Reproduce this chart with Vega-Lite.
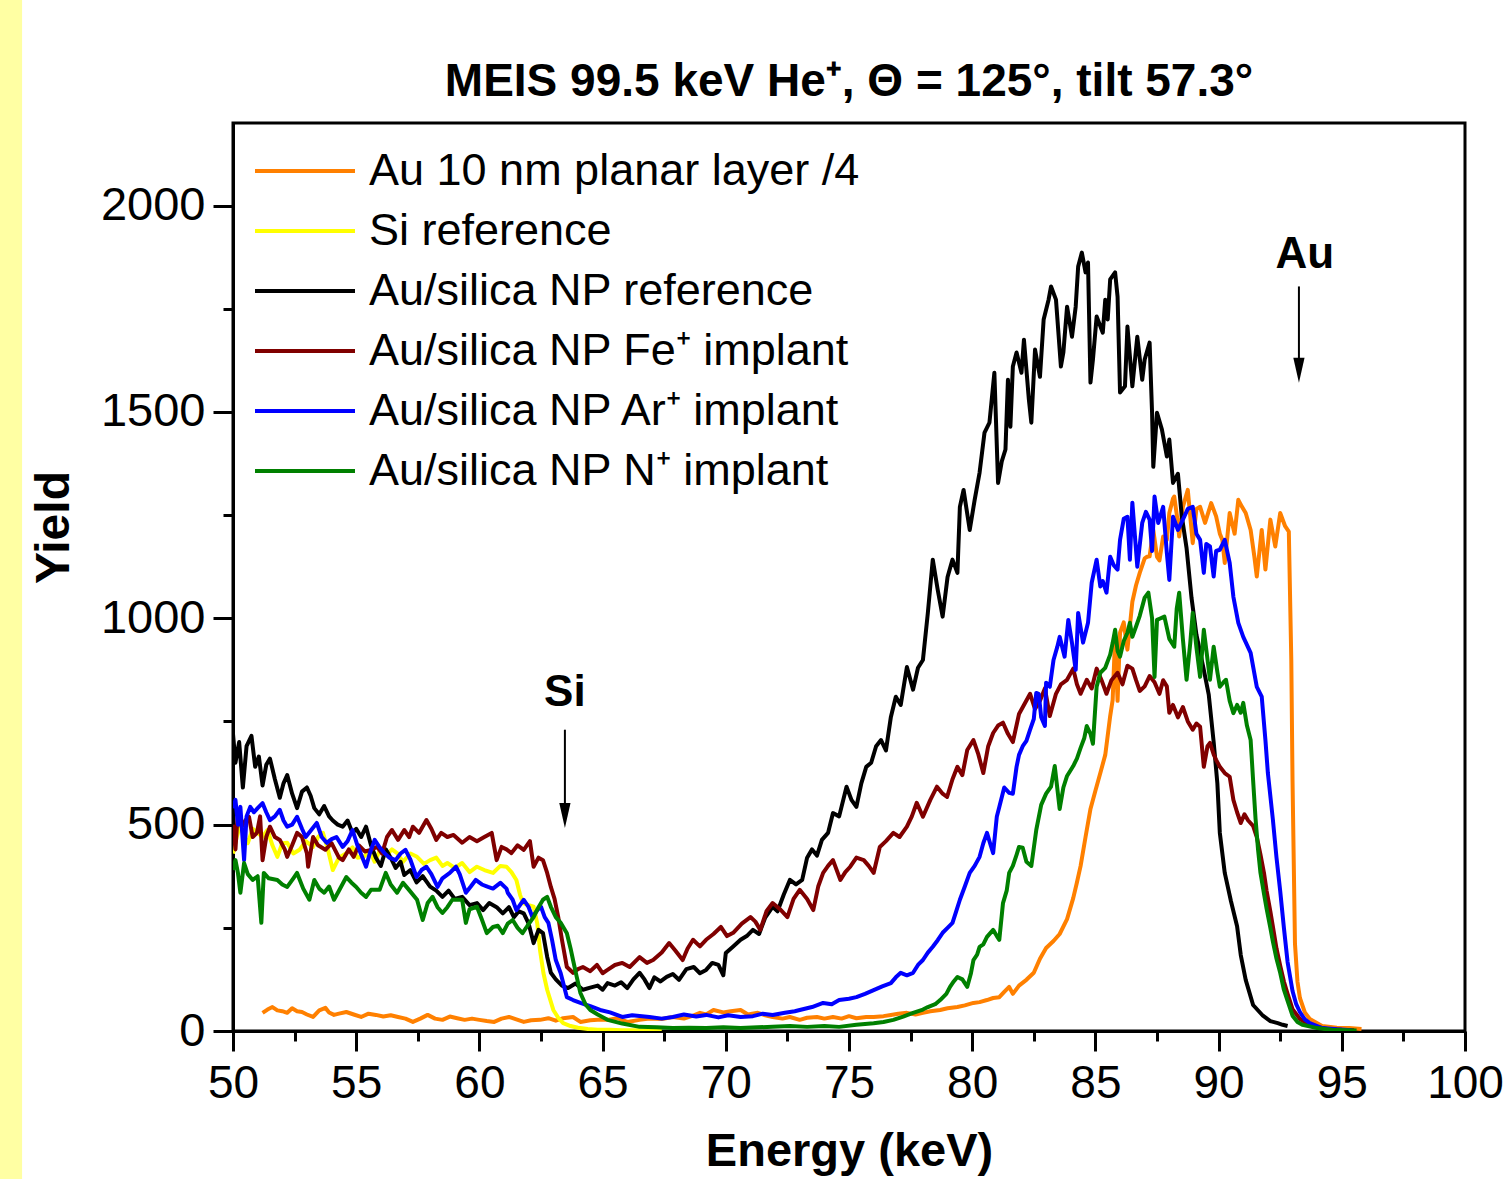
{
"$schema":"https://vega.github.io/schema/vega-lite/v6.json",
"width":1232,"height":908,
"autosize":{"type":"none"},
"padding":{"left":233,"top":123,"right":38,"bottom":148},
"background":"white",
"config":{"font":"Liberation Sans","view":{"stroke":"black","strokeWidth":3}},
"title":{"text":"MEIS 99.5 keV He⁺, Θ = 125°, tilt 57.3°","fontSize":46,"fontWeight":"bold","font":"Liberation Sans","color":"black","offset":-107,"anchor":"middle","frame":"group"},
"datasets":{"names":[
{"s":"o","series":"Au 10 nm planar layer /4"},
{"s":"si","series":"Si reference"},
{"s":"k","series":"Au/silica NP reference"},
{"s":"r","series":"Au/silica NP Fe⁺ implant"},
{"s":"b","series":"Au/silica NP Ar⁺ implant"},
{"s":"g","series":"Au/silica NP N⁺ implant"}]},
"layer":[
{"data":{"values":[{}]},
 "mark":{"type":"rect","color":"#FFFFA3","clip":false},
 "encoding":{"x":{"datum":40,"type":"quantitative","scale":{"domain":[50,100],"nice":false,"zero":false}},"x2":{"datum":41.44},
 "y":{"datum":-360,"type":"quantitative","scale":{"domain":[0,2200],"nice":false,"zero":false}},"y2":{"datum":2499.5}}},
{"data":{"values":[
{"s":"o","e":51.2,"y":44},{"s":"o","e":51.4,"y":52},{"s":"o","e":51.6,"y":58},{"s":"o","e":51.8,"y":50},{"s":"o","e":52.0,"y":48},{"s":"o","e":52.2,"y":44},{"s":"o","e":52.4,"y":55},{"s":"o","e":52.6,"y":48},{"s":"o","e":52.8,"y":46},{"s":"o","e":53.0,"y":40},{"s":"o","e":53.25,"y":34},{"s":"o","e":53.5,"y":50},{"s":"o","e":53.75,"y":56},{"s":"o","e":53.9,"y":45},{"s":"o","e":54.1,"y":39},{"s":"o","e":54.3,"y":42},{"s":"o","e":54.6,"y":46},{"s":"o","e":54.9,"y":40},{"s":"o","e":55.2,"y":34},{"s":"o","e":55.5,"y":42},{"s":"o","e":55.8,"y":39},{"s":"o","e":56.1,"y":35},{"s":"o","e":56.4,"y":38},{"s":"o","e":56.7,"y":34},{"s":"o","e":57.0,"y":30},{"s":"o","e":57.3,"y":22},{"s":"o","e":57.6,"y":30},{"s":"o","e":57.9,"y":39},{"s":"o","e":58.2,"y":30},{"s":"o","e":58.5,"y":27},{"s":"o","e":58.8,"y":35},{"s":"o","e":59.1,"y":31},{"s":"o","e":59.4,"y":27},{"s":"o","e":59.7,"y":30},{"s":"o","e":60.0,"y":27},{"s":"o","e":60.3,"y":24},{"s":"o","e":60.6,"y":22},{"s":"o","e":60.9,"y":30},{"s":"o","e":61.2,"y":34},{"s":"o","e":61.5,"y":28},{"s":"o","e":61.8,"y":22},{"s":"o","e":62.1,"y":26},{"s":"o","e":62.46,"y":27},{"s":"o","e":62.8,"y":31},{"s":"o","e":63.1,"y":25},{"s":"o","e":63.4,"y":31},{"s":"o","e":63.8,"y":34},{"s":"o","e":64.1,"y":22},{"s":"o","e":64.5,"y":26},{"s":"o","e":64.8,"y":27},{"s":"o","e":65.2,"y":27},{"s":"o","e":65.6,"y":31},{"s":"o","e":66.0,"y":22},{"s":"o","e":66.5,"y":27},{"s":"o","e":66.9,"y":30},{"s":"o","e":67.4,"y":29},{"s":"o","e":67.85,"y":34},{"s":"o","e":68.3,"y":30},{"s":"o","e":68.7,"y":38},{"s":"o","e":68.95,"y":44},{"s":"o","e":69.2,"y":40},{"s":"o","e":69.5,"y":51},{"s":"o","e":69.9,"y":45},{"s":"o","e":70.2,"y":48},{"s":"o","e":70.6,"y":51},{"s":"o","e":70.9,"y":40},{"s":"o","e":71.3,"y":44},{"s":"o","e":71.6,"y":38},{"s":"o","e":71.9,"y":34},{"s":"o","e":72.3,"y":30},{"s":"o","e":72.6,"y":34},{"s":"o","e":73.0,"y":27},{"s":"o","e":73.3,"y":32},{"s":"o","e":73.7,"y":34},{"s":"o","e":74.0,"y":30},{"s":"o","e":74.35,"y":34},{"s":"o","e":74.7,"y":30},{"s":"o","e":75.0,"y":36},{"s":"o","e":75.3,"y":31},{"s":"o","e":75.7,"y":34},{"s":"o","e":76.0,"y":34},{"s":"o","e":76.4,"y":36},{"s":"o","e":76.7,"y":39},{"s":"o","e":77.0,"y":42},{"s":"o","e":77.35,"y":44},{"s":"o","e":77.7,"y":40},{"s":"o","e":78.0,"y":44},{"s":"o","e":78.3,"y":48},{"s":"o","e":78.7,"y":51},{"s":"o","e":79.0,"y":55},{"s":"o","e":79.4,"y":58},{"s":"o","e":79.7,"y":62},{"s":"o","e":80.05,"y":68},{"s":"o","e":80.3,"y":70},{"s":"o","e":80.6,"y":75},{"s":"o","e":80.85,"y":80},{"s":"o","e":81.1,"y":82},{"s":"o","e":81.3,"y":95},{"s":"o","e":81.5,"y":107},{"s":"o","e":81.65,"y":90},{"s":"o","e":81.9,"y":110},{"s":"o","e":82.2,"y":124},{"s":"o","e":82.5,"y":141},{"s":"o","e":82.75,"y":175},{"s":"o","e":83.0,"y":201},{"s":"o","e":83.3,"y":218},{"s":"o","e":83.55,"y":235},{"s":"o","e":83.85,"y":271},{"s":"o","e":84.1,"y":322},{"s":"o","e":84.25,"y":360},{"s":"o","e":84.4,"y":400},{"s":"o","e":84.6,"y":470},{"s":"o","e":84.8,"y":538},{"s":"o","e":85.0,"y":582},{"s":"o","e":85.2,"y":625},{"s":"o","e":85.4,"y":669},{"s":"o","e":85.6,"y":763},{"s":"o","e":85.7,"y":802},{"s":"o","e":85.8,"y":955},{"s":"o","e":85.9,"y":800},{"s":"o","e":86.0,"y":965},{"s":"o","e":86.15,"y":990},{"s":"o","e":86.3,"y":924},{"s":"o","e":86.5,"y":1040},{"s":"o","e":86.65,"y":1080},{"s":"o","e":86.8,"y":1110},{"s":"o","e":87.0,"y":1145},{"s":"o","e":87.1,"y":1149},{"s":"o","e":87.2,"y":1150},{"s":"o","e":87.35,"y":1214},{"s":"o","e":87.5,"y":1149},{"s":"o","e":87.6,"y":1140},{"s":"o","e":87.75,"y":1198},{"s":"o","e":87.9,"y":1190},{"s":"o","e":88.0,"y":1255},{"s":"o","e":88.15,"y":1290},{"s":"o","e":88.2,"y":1295},{"s":"o","e":88.35,"y":1230},{"s":"o","e":88.4,"y":1198},{"s":"o","e":88.55,"y":1270},{"s":"o","e":88.75,"y":1311},{"s":"o","e":88.95,"y":1182},{"s":"o","e":89.1,"y":1265},{"s":"o","e":89.25,"y":1270},{"s":"o","e":89.45,"y":1231},{"s":"o","e":89.7,"y":1279},{"s":"o","e":89.9,"y":1247},{"s":"o","e":90.05,"y":1205},{"s":"o","e":90.15,"y":1190},{"s":"o","e":90.25,"y":1134},{"s":"o","e":90.45,"y":1255},{"s":"o","e":90.65,"y":1205},{"s":"o","e":90.8,"y":1287},{"s":"o","e":90.95,"y":1270},{"s":"o","e":91.1,"y":1255},{"s":"o","e":91.3,"y":1214},{"s":"o","e":91.45,"y":1150},{"s":"o","e":91.55,"y":1101},{"s":"o","e":91.75,"y":1214},{"s":"o","e":91.9,"y":1118},{"s":"o","e":92.1,"y":1239},{"s":"o","e":92.3,"y":1174},{"s":"o","e":92.5,"y":1255},{"s":"o","e":92.7,"y":1223},{"s":"o","e":92.85,"y":1210},{"s":"o","e":92.95,"y":900},{"s":"o","e":93.0,"y":608},{"s":"o","e":93.1,"y":211},{"s":"o","e":93.2,"y":120},{"s":"o","e":93.3,"y":80},{"s":"o","e":93.5,"y":45},{"s":"o","e":93.7,"y":29},{"s":"o","e":94.2,"y":12},{"s":"o","e":94.8,"y":8},{"s":"o","e":95.3,"y":7},{"s":"o","e":95.8,"y":5},
{"s":"si","e":50.0,"y":430},{"s":"si","e":50.15,"y":470},{"s":"si","e":50.3,"y":500},{"s":"si","e":50.45,"y":470},{"s":"si","e":50.6,"y":455},{"s":"si","e":50.8,"y":490},{"s":"si","e":51.0,"y":480},{"s":"si","e":51.2,"y":470},{"s":"si","e":51.4,"y":487},{"s":"si","e":51.6,"y":450},{"s":"si","e":51.8,"y":422},{"s":"si","e":52.0,"y":455},{"s":"si","e":52.2,"y":456},{"s":"si","e":52.45,"y":430},{"s":"si","e":52.7,"y":439},{"s":"si","e":52.95,"y":460},{"s":"si","e":53.25,"y":446},{"s":"si","e":53.45,"y":470},{"s":"si","e":53.65,"y":480},{"s":"si","e":53.85,"y":440},{"s":"si","e":54.05,"y":390},{"s":"si","e":54.3,"y":420},{"s":"si","e":54.6,"y":431},{"s":"si","e":54.85,"y":445},{"s":"si","e":55.05,"y":420},{"s":"si","e":55.3,"y":422},{"s":"si","e":55.55,"y":435},{"s":"si","e":55.75,"y":410},{"s":"si","e":55.97,"y":439},{"s":"si","e":56.2,"y":425},{"s":"si","e":56.45,"y":440},{"s":"si","e":56.66,"y":431},{"s":"si","e":56.9,"y":410},{"s":"si","e":57.2,"y":430},{"s":"si","e":57.47,"y":422},{"s":"si","e":57.75,"y":405},{"s":"si","e":58.0,"y":414},{"s":"si","e":58.25,"y":420},{"s":"si","e":58.5,"y":400},{"s":"si","e":58.7,"y":407},{"s":"si","e":59.0,"y":395},{"s":"si","e":59.3,"y":407},{"s":"si","e":59.6,"y":385},{"s":"si","e":59.9,"y":398},{"s":"si","e":60.2,"y":390},{"s":"si","e":60.55,"y":383},{"s":"si","e":60.85,"y":400},{"s":"si","e":61.1,"y":398},{"s":"si","e":61.3,"y":385},{"s":"si","e":61.5,"y":366},{"s":"si","e":61.65,"y":330},{"s":"si","e":61.77,"y":310},{"s":"si","e":62.0,"y":305},{"s":"si","e":62.2,"y":301},{"s":"si","e":62.35,"y":260},{"s":"si","e":62.46,"y":196},{"s":"si","e":62.6,"y":140},{"s":"si","e":62.75,"y":100},{"s":"si","e":63.0,"y":51},{"s":"si","e":63.2,"y":32},{"s":"si","e":63.4,"y":19},{"s":"si","e":63.7,"y":12},{"s":"si","e":64.0,"y":8},{"s":"si","e":64.4,"y":5},{"s":"si","e":64.8,"y":3},{"s":"si","e":65.3,"y":3},{"s":"si","e":65.8,"y":2},{"s":"si","e":66.3,"y":2},{"s":"si","e":66.8,"y":1},{"s":"si","e":67.4,"y":1},
{"s":"k","e":50.0,"y":720},{"s":"k","e":50.1,"y":650},{"s":"k","e":50.25,"y":700},{"s":"k","e":50.4,"y":590},{"s":"k","e":50.55,"y":690},{"s":"k","e":50.75,"y":715},{"s":"k","e":50.9,"y":640},{"s":"k","e":51.05,"y":665},{"s":"k","e":51.2,"y":595},{"s":"k","e":51.35,"y":645},{"s":"k","e":51.5,"y":660},{"s":"k","e":51.7,"y":610},{"s":"k","e":51.9,"y":565},{"s":"k","e":52.05,"y":600},{"s":"k","e":52.2,"y":620},{"s":"k","e":52.4,"y":575},{"s":"k","e":52.6,"y":540},{"s":"k","e":52.8,"y":580},{"s":"k","e":53.0,"y":590},{"s":"k","e":53.15,"y":570},{"s":"k","e":53.3,"y":540},{"s":"k","e":53.5,"y":525},{"s":"k","e":53.7,"y":545},{"s":"k","e":53.9,"y":520},{"s":"k","e":54.05,"y":510},{"s":"k","e":54.25,"y":500},{"s":"k","e":54.45,"y":495},{"s":"k","e":54.65,"y":510},{"s":"k","e":54.85,"y":480},{"s":"k","e":55.0,"y":490},{"s":"k","e":55.2,"y":470},{"s":"k","e":55.4,"y":495},{"s":"k","e":55.6,"y":450},{"s":"k","e":55.8,"y":420},{"s":"k","e":56.0,"y":400},{"s":"k","e":56.2,"y":440},{"s":"k","e":56.4,"y":420},{"s":"k","e":56.6,"y":395},{"s":"k","e":56.8,"y":410},{"s":"k","e":56.95,"y":378},{"s":"k","e":57.2,"y":390},{"s":"k","e":57.45,"y":360},{"s":"k","e":57.7,"y":375},{"s":"k","e":58.0,"y":350},{"s":"k","e":58.25,"y":340},{"s":"k","e":58.5,"y":325},{"s":"k","e":58.75,"y":340},{"s":"k","e":59.0,"y":320},{"s":"k","e":59.3,"y":325},{"s":"k","e":59.6,"y":305},{"s":"k","e":59.9,"y":310},{"s":"k","e":60.15,"y":293},{"s":"k","e":60.4,"y":310},{"s":"k","e":60.7,"y":300},{"s":"k","e":60.95,"y":285},{"s":"k","e":61.2,"y":300},{"s":"k","e":61.4,"y":276},{"s":"k","e":61.6,"y":290},{"s":"k","e":61.8,"y":285},{"s":"k","e":62.0,"y":260},{"s":"k","e":62.2,"y":213},{"s":"k","e":62.4,"y":245},{"s":"k","e":62.58,"y":237},{"s":"k","e":62.75,"y":180},{"s":"k","e":62.9,"y":141},{"s":"k","e":63.1,"y":125},{"s":"k","e":63.35,"y":110},{"s":"k","e":63.6,"y":104},{"s":"k","e":63.9,"y":115},{"s":"k","e":64.2,"y":100},{"s":"k","e":64.5,"y":105},{"s":"k","e":64.8,"y":110},{"s":"k","e":65.0,"y":100},{"s":"k","e":65.2,"y":116},{"s":"k","e":65.5,"y":110},{"s":"k","e":65.75,"y":118},{"s":"k","e":66.0,"y":104},{"s":"k","e":66.25,"y":125},{"s":"k","e":66.5,"y":141},{"s":"k","e":66.7,"y":125},{"s":"k","e":66.9,"y":104},{"s":"k","e":67.1,"y":130},{"s":"k","e":67.35,"y":120},{"s":"k","e":67.6,"y":131},{"s":"k","e":67.85,"y":138},{"s":"k","e":68.1,"y":124},{"s":"k","e":68.4,"y":150},{"s":"k","e":68.7,"y":155},{"s":"k","e":68.95,"y":140},{"s":"k","e":69.2,"y":148},{"s":"k","e":69.45,"y":165},{"s":"k","e":69.7,"y":160},{"s":"k","e":69.9,"y":135},{"s":"k","e":70.0,"y":189},{"s":"k","e":70.3,"y":205},{"s":"k","e":70.6,"y":221},{"s":"k","e":70.85,"y":230},{"s":"k","e":71.1,"y":245},{"s":"k","e":71.35,"y":235},{"s":"k","e":71.6,"y":275},{"s":"k","e":71.9,"y":301},{"s":"k","e":72.1,"y":290},{"s":"k","e":72.35,"y":330},{"s":"k","e":72.6,"y":366},{"s":"k","e":72.85,"y":355},{"s":"k","e":73.1,"y":366},{"s":"k","e":73.3,"y":420},{"s":"k","e":73.5,"y":440},{"s":"k","e":73.7,"y":425},{"s":"k","e":73.9,"y":463},{"s":"k","e":74.15,"y":480},{"s":"k","e":74.35,"y":528},{"s":"k","e":74.6,"y":520},{"s":"k","e":74.9,"y":592},{"s":"k","e":75.1,"y":560},{"s":"k","e":75.3,"y":543},{"s":"k","e":75.5,"y":600},{"s":"k","e":75.7,"y":640},{"s":"k","e":75.9,"y":650},{"s":"k","e":76.1,"y":690},{"s":"k","e":76.3,"y":705},{"s":"k","e":76.5,"y":680},{"s":"k","e":76.7,"y":761},{"s":"k","e":76.9,"y":810},{"s":"k","e":77.1,"y":790},{"s":"k","e":77.35,"y":882},{"s":"k","e":77.6,"y":827},{"s":"k","e":77.8,"y":880},{"s":"k","e":78.0,"y":899},{"s":"k","e":78.2,"y":1013},{"s":"k","e":78.4,"y":1142},{"s":"k","e":78.6,"y":1069},{"s":"k","e":78.8,"y":1004},{"s":"k","e":79.0,"y":1100},{"s":"k","e":79.2,"y":1142},{"s":"k","e":79.4,"y":1110},{"s":"k","e":79.5,"y":1270},{"s":"k","e":79.65,"y":1311},{"s":"k","e":79.9,"y":1214},{"s":"k","e":80.1,"y":1287},{"s":"k","e":80.3,"y":1353},{"s":"k","e":80.5,"y":1450},{"s":"k","e":80.7,"y":1474},{"s":"k","e":80.9,"y":1595},{"s":"k","e":81.05,"y":1328},{"s":"k","e":81.2,"y":1380},{"s":"k","e":81.35,"y":1409},{"s":"k","e":81.45,"y":1578},{"s":"k","e":81.55,"y":1464},{"s":"k","e":81.65,"y":1610},{"s":"k","e":81.8,"y":1644},{"s":"k","e":82.0,"y":1595},{"s":"k","e":82.1,"y":1675},{"s":"k","e":82.3,"y":1530},{"s":"k","e":82.4,"y":1474},{"s":"k","e":82.55,"y":1651},{"s":"k","e":82.75,"y":1585},{"s":"k","e":82.9,"y":1724},{"s":"k","e":83.1,"y":1772},{"s":"k","e":83.2,"y":1804},{"s":"k","e":83.4,"y":1772},{"s":"k","e":83.6,"y":1610},{"s":"k","e":83.7,"y":1644},{"s":"k","e":83.85,"y":1755},{"s":"k","e":84.05,"y":1682},{"s":"k","e":84.2,"y":1755},{"s":"k","e":84.3,"y":1852},{"s":"k","e":84.45,"y":1886},{"s":"k","e":84.6,"y":1838},{"s":"k","e":84.7,"y":1862},{"s":"k","e":84.8,"y":1571},{"s":"k","e":84.9,"y":1627},{"s":"k","e":85.05,"y":1731},{"s":"k","e":85.3,"y":1692},{"s":"k","e":85.4,"y":1772},{"s":"k","e":85.5,"y":1724},{"s":"k","e":85.6,"y":1821},{"s":"k","e":85.8,"y":1838},{"s":"k","e":85.9,"y":1779},{"s":"k","e":86.0,"y":1547},{"s":"k","e":86.2,"y":1562},{"s":"k","e":86.3,"y":1707},{"s":"k","e":86.5,"y":1562},{"s":"k","e":86.7,"y":1682},{"s":"k","e":86.9,"y":1578},{"s":"k","e":87.0,"y":1627},{"s":"k","e":87.2,"y":1668},{"s":"k","e":87.3,"y":1498},{"s":"k","e":87.35,"y":1367},{"s":"k","e":87.5,"y":1498},{"s":"k","e":87.7,"y":1457},{"s":"k","e":87.9,"y":1392},{"s":"k","e":88.0,"y":1433},{"s":"k","e":88.15,"y":1328},{"s":"k","e":88.35,"y":1350},{"s":"k","e":88.5,"y":1250},{"s":"k","e":88.7,"y":1170},{"s":"k","e":88.9,"y":1050},{"s":"k","e":89.1,"y":960},{"s":"k","e":89.4,"y":875},{"s":"k","e":89.6,"y":815},{"s":"k","e":89.8,"y":700},{"s":"k","e":89.95,"y":600},{"s":"k","e":90.05,"y":480},{"s":"k","e":90.25,"y":383},{"s":"k","e":90.5,"y":315},{"s":"k","e":90.75,"y":254},{"s":"k","e":90.9,"y":184},{"s":"k","e":91.1,"y":124},{"s":"k","e":91.4,"y":63},{"s":"k","e":91.8,"y":37},{"s":"k","e":92.1,"y":24},{"s":"k","e":92.4,"y":19},{"s":"k","e":92.6,"y":15},{"s":"k","e":92.8,"y":12},
{"s":"r","e":50.0,"y":500},{"s":"r","e":50.1,"y":440},{"s":"r","e":50.2,"y":536},{"s":"r","e":50.35,"y":495},{"s":"r","e":50.5,"y":510},{"s":"r","e":50.65,"y":519},{"s":"r","e":50.8,"y":470},{"s":"r","e":50.97,"y":480},{"s":"r","e":51.1,"y":520},{"s":"r","e":51.2,"y":414},{"s":"r","e":51.35,"y":470},{"s":"r","e":51.5,"y":495},{"s":"r","e":51.7,"y":470},{"s":"r","e":51.9,"y":463},{"s":"r","e":52.1,"y":440},{"s":"r","e":52.2,"y":422},{"s":"r","e":52.4,"y":450},{"s":"r","e":52.6,"y":480},{"s":"r","e":52.8,"y":470},{"s":"r","e":53.0,"y":430},{"s":"r","e":53.05,"y":398},{"s":"r","e":53.25,"y":470},{"s":"r","e":53.45,"y":450},{"s":"r","e":53.75,"y":439},{"s":"r","e":54.0,"y":455},{"s":"r","e":54.3,"y":420},{"s":"r","e":54.45,"y":414},{"s":"r","e":54.7,"y":440},{"s":"r","e":54.9,"y":422},{"s":"r","e":55.1,"y":450},{"s":"r","e":55.35,"y":435},{"s":"r","e":55.6,"y":439},{"s":"r","e":55.85,"y":446},{"s":"r","e":56.05,"y":430},{"s":"r","e":56.25,"y":470},{"s":"r","e":56.45,"y":487},{"s":"r","e":56.7,"y":463},{"s":"r","e":56.95,"y":487},{"s":"r","e":57.15,"y":470},{"s":"r","e":57.3,"y":495},{"s":"r","e":57.55,"y":480},{"s":"r","e":57.85,"y":511},{"s":"r","e":58.05,"y":490},{"s":"r","e":58.25,"y":463},{"s":"r","e":58.45,"y":480},{"s":"r","e":58.7,"y":470},{"s":"r","e":58.95,"y":475},{"s":"r","e":59.3,"y":456},{"s":"r","e":59.6,"y":470},{"s":"r","e":59.9,"y":460},{"s":"r","e":60.2,"y":470},{"s":"r","e":60.5,"y":480},{"s":"r","e":60.7,"y":414},{"s":"r","e":60.9,"y":446},{"s":"r","e":61.1,"y":440},{"s":"r","e":61.3,"y":431},{"s":"r","e":61.55,"y":450},{"s":"r","e":61.8,"y":439},{"s":"r","e":62.05,"y":460},{"s":"r","e":62.2,"y":398},{"s":"r","e":62.4,"y":420},{"s":"r","e":62.58,"y":414},{"s":"r","e":62.75,"y":383},{"s":"r","e":62.9,"y":349},{"s":"r","e":63.05,"y":320},{"s":"r","e":63.2,"y":276},{"s":"r","e":63.35,"y":221},{"s":"r","e":63.55,"y":155},{"s":"r","e":63.8,"y":141},{"s":"r","e":64.0,"y":150},{"s":"r","e":64.2,"y":155},{"s":"r","e":64.5,"y":145},{"s":"r","e":64.77,"y":160},{"s":"r","e":65.0,"y":140},{"s":"r","e":65.2,"y":148},{"s":"r","e":65.5,"y":160},{"s":"r","e":65.8,"y":165},{"s":"r","e":66.1,"y":155},{"s":"r","e":66.5,"y":179},{"s":"r","e":66.8,"y":165},{"s":"r","e":67.05,"y":172},{"s":"r","e":67.4,"y":190},{"s":"r","e":67.7,"y":213},{"s":"r","e":67.95,"y":195},{"s":"r","e":68.25,"y":172},{"s":"r","e":68.45,"y":200},{"s":"r","e":68.67,"y":221},{"s":"r","e":68.95,"y":205},{"s":"r","e":69.2,"y":221},{"s":"r","e":69.5,"y":235},{"s":"r","e":69.8,"y":252},{"s":"r","e":70.05,"y":230},{"s":"r","e":70.3,"y":238},{"s":"r","e":70.65,"y":260},{"s":"r","e":71.0,"y":276},{"s":"r","e":71.2,"y":265},{"s":"r","e":71.4,"y":245},{"s":"r","e":71.65,"y":290},{"s":"r","e":71.9,"y":310},{"s":"r","e":72.2,"y":295},{"s":"r","e":72.5,"y":276},{"s":"r","e":72.75,"y":320},{"s":"r","e":73.0,"y":342},{"s":"r","e":73.3,"y":320},{"s":"r","e":73.55,"y":293},{"s":"r","e":73.75,"y":350},{"s":"r","e":73.95,"y":383},{"s":"r","e":74.15,"y":400},{"s":"r","e":74.35,"y":414},{"s":"r","e":74.65,"y":366},{"s":"r","e":74.85,"y":385},{"s":"r","e":75.05,"y":398},{"s":"r","e":75.3,"y":420},{"s":"r","e":75.6,"y":414},{"s":"r","e":75.8,"y":400},{"s":"r","e":76.0,"y":383},{"s":"r","e":76.25,"y":446},{"s":"r","e":76.5,"y":460},{"s":"r","e":76.8,"y":480},{"s":"r","e":77.05,"y":470},{"s":"r","e":77.35,"y":495},{"s":"r","e":77.55,"y":520},{"s":"r","e":77.75,"y":553},{"s":"r","e":78.0,"y":519},{"s":"r","e":78.3,"y":560},{"s":"r","e":78.57,"y":592},{"s":"r","e":78.8,"y":575},{"s":"r","e":78.98,"y":567},{"s":"r","e":79.2,"y":610},{"s":"r","e":79.4,"y":640},{"s":"r","e":79.6,"y":620},{"s":"r","e":79.8,"y":681},{"s":"r","e":80.05,"y":705},{"s":"r","e":80.25,"y":670},{"s":"r","e":80.45,"y":625},{"s":"r","e":80.65,"y":690},{"s":"r","e":80.85,"y":722},{"s":"r","e":81.05,"y":740},{"s":"r","e":81.25,"y":747},{"s":"r","e":81.45,"y":720},{"s":"r","e":81.65,"y":700},{"s":"r","e":81.9,"y":768},{"s":"r","e":82.1,"y":790},{"s":"r","e":82.35,"y":817},{"s":"r","e":82.55,"y":780},{"s":"r","e":82.75,"y":800},{"s":"r","e":82.95,"y":830},{"s":"r","e":83.15,"y":763},{"s":"r","e":83.4,"y":817},{"s":"r","e":83.6,"y":840},{"s":"r","e":83.85,"y":851},{"s":"r","e":84.1,"y":878},{"s":"r","e":84.25,"y":840},{"s":"r","e":84.4,"y":817},{"s":"r","e":84.65,"y":851},{"s":"r","e":84.85,"y":830},{"s":"r","e":85.05,"y":878},{"s":"r","e":85.25,"y":850},{"s":"r","e":85.45,"y":817},{"s":"r","e":85.65,"y":850},{"s":"r","e":85.9,"y":868},{"s":"r","e":86.1,"y":840},{"s":"r","e":86.3,"y":885},{"s":"r","e":86.5,"y":878},{"s":"r","e":86.65,"y":850},{"s":"r","e":86.8,"y":824},{"s":"r","e":87.0,"y":835},{"s":"r","e":87.2,"y":860},{"s":"r","e":87.4,"y":845},{"s":"r","e":87.6,"y":817},{"s":"r","e":87.75,"y":850},{"s":"r","e":87.9,"y":835},{"s":"r","e":88.0,"y":771},{"s":"r","e":88.15,"y":790},{"s":"r","e":88.35,"y":760},{"s":"r","e":88.55,"y":785},{"s":"r","e":88.75,"y":750},{"s":"r","e":88.95,"y":730},{"s":"r","e":89.1,"y":745},{"s":"r","e":89.25,"y":737},{"s":"r","e":89.4,"y":640},{"s":"r","e":89.55,"y":690},{"s":"r","e":89.65,"y":698},{"s":"r","e":89.8,"y":670},{"s":"r","e":89.9,"y":657},{"s":"r","e":90.05,"y":640},{"s":"r","e":90.25,"y":625},{"s":"r","e":90.45,"y":616},{"s":"r","e":90.6,"y":560},{"s":"r","e":90.75,"y":530},{"s":"r","e":90.9,"y":504},{"s":"r","e":91.05,"y":525},{"s":"r","e":91.2,"y":510},{"s":"r","e":91.4,"y":497},{"s":"r","e":91.55,"y":470},{"s":"r","e":91.7,"y":427},{"s":"r","e":91.85,"y":380},{"s":"r","e":91.95,"y":339},{"s":"r","e":92.1,"y":290},{"s":"r","e":92.2,"y":254},{"s":"r","e":92.35,"y":200},{"s":"r","e":92.5,"y":158},{"s":"r","e":92.65,"y":120},{"s":"r","e":92.8,"y":90},{"s":"r","e":93.0,"y":53},{"s":"r","e":93.3,"y":29},{"s":"r","e":93.6,"y":18},{"s":"r","e":93.8,"y":12},{"s":"r","e":94.4,"y":5},{"s":"r","e":95.0,"y":3},{"s":"r","e":95.5,"y":2},
{"s":"b","e":50.0,"y":540},{"s":"b","e":50.1,"y":560},{"s":"b","e":50.2,"y":500},{"s":"b","e":50.3,"y":543},{"s":"b","e":50.45,"y":414},{"s":"b","e":50.55,"y":520},{"s":"b","e":50.7,"y":543},{"s":"b","e":50.85,"y":530},{"s":"b","e":51.0,"y":540},{"s":"b","e":51.2,"y":552},{"s":"b","e":51.35,"y":530},{"s":"b","e":51.5,"y":511},{"s":"b","e":51.7,"y":520},{"s":"b","e":51.9,"y":536},{"s":"b","e":52.05,"y":510},{"s":"b","e":52.2,"y":495},{"s":"b","e":52.4,"y":500},{"s":"b","e":52.6,"y":519},{"s":"b","e":52.8,"y":490},{"s":"b","e":52.95,"y":470},{"s":"b","e":53.15,"y":485},{"s":"b","e":53.4,"y":504},{"s":"b","e":53.6,"y":470},{"s":"b","e":53.8,"y":456},{"s":"b","e":54.0,"y":465},{"s":"b","e":54.2,"y":470},{"s":"b","e":54.45,"y":446},{"s":"b","e":54.65,"y":460},{"s":"b","e":54.85,"y":487},{"s":"b","e":55.05,"y":450},{"s":"b","e":55.4,"y":398},{"s":"b","e":55.55,"y":430},{"s":"b","e":55.75,"y":463},{"s":"b","e":55.95,"y":445},{"s":"b","e":56.15,"y":431},{"s":"b","e":56.35,"y":420},{"s":"b","e":56.6,"y":414},{"s":"b","e":56.8,"y":430},{"s":"b","e":57.0,"y":439},{"s":"b","e":57.2,"y":415},{"s":"b","e":57.45,"y":373},{"s":"b","e":57.65,"y":390},{"s":"b","e":57.85,"y":398},{"s":"b","e":58.05,"y":380},{"s":"b","e":58.3,"y":349},{"s":"b","e":58.5,"y":370},{"s":"b","e":58.8,"y":383},{"s":"b","e":59.05,"y":398},{"s":"b","e":59.2,"y":380},{"s":"b","e":59.45,"y":335},{"s":"b","e":59.65,"y":350},{"s":"b","e":59.85,"y":366},{"s":"b","e":60.1,"y":355},{"s":"b","e":60.35,"y":349},{"s":"b","e":60.55,"y":345},{"s":"b","e":60.85,"y":359},{"s":"b","e":61.1,"y":345},{"s":"b","e":61.15,"y":335},{"s":"b","e":61.35,"y":318},{"s":"b","e":61.5,"y":293},{"s":"b","e":61.8,"y":318},{"s":"b","e":62.0,"y":300},{"s":"b","e":62.15,"y":276},{"s":"b","e":62.35,"y":293},{"s":"b","e":62.5,"y":301},{"s":"b","e":62.65,"y":276},{"s":"b","e":62.8,"y":262},{"s":"b","e":62.95,"y":220},{"s":"b","e":63.1,"y":172},{"s":"b","e":63.3,"y":140},{"s":"b","e":63.55,"y":82},{"s":"b","e":63.8,"y":75},{"s":"b","e":64.1,"y":68},{"s":"b","e":64.5,"y":60},{"s":"b","e":64.9,"y":51},{"s":"b","e":65.3,"y":45},{"s":"b","e":65.8,"y":34},{"s":"b","e":66.2,"y":38},{"s":"b","e":66.9,"y":34},{"s":"b","e":67.4,"y":30},{"s":"b","e":67.85,"y":34},{"s":"b","e":68.3,"y":40},{"s":"b","e":68.8,"y":35},{"s":"b","e":69.2,"y":39},{"s":"b","e":69.7,"y":33},{"s":"b","e":70.1,"y":38},{"s":"b","e":70.6,"y":34},{"s":"b","e":71.1,"y":36},{"s":"b","e":71.5,"y":42},{"s":"b","e":71.9,"y":39},{"s":"b","e":72.4,"y":44},{"s":"b","e":72.8,"y":48},{"s":"b","e":73.0,"y":51},{"s":"b","e":73.5,"y":58},{"s":"b","e":73.95,"y":68},{"s":"b","e":74.3,"y":65},{"s":"b","e":74.6,"y":75},{"s":"b","e":75.0,"y":78},{"s":"b","e":75.3,"y":82},{"s":"b","e":75.65,"y":90},{"s":"b","e":76.0,"y":99},{"s":"b","e":76.35,"y":108},{"s":"b","e":76.7,"y":116},{"s":"b","e":76.9,"y":130},{"s":"b","e":77.1,"y":141},{"s":"b","e":77.35,"y":135},{"s":"b","e":77.6,"y":141},{"s":"b","e":77.8,"y":160},{"s":"b","e":78.0,"y":172},{"s":"b","e":78.2,"y":190},{"s":"b","e":78.4,"y":204},{"s":"b","e":78.6,"y":220},{"s":"b","e":78.8,"y":238},{"s":"b","e":79.0,"y":250},{"s":"b","e":79.2,"y":262},{"s":"b","e":79.35,"y":290},{"s":"b","e":79.5,"y":318},{"s":"b","e":79.7,"y":350},{"s":"b","e":79.9,"y":383},{"s":"b","e":80.1,"y":400},{"s":"b","e":80.3,"y":422},{"s":"b","e":80.45,"y":455},{"s":"b","e":80.6,"y":480},{"s":"b","e":80.75,"y":450},{"s":"b","e":80.85,"y":431},{"s":"b","e":81.0,"y":520},{"s":"b","e":81.1,"y":543},{"s":"b","e":81.3,"y":590},{"s":"b","e":81.5,"y":577},{"s":"b","e":81.65,"y":575},{"s":"b","e":81.8,"y":640},{"s":"b","e":81.9,"y":669},{"s":"b","e":82.05,"y":690},{"s":"b","e":82.2,"y":703},{"s":"b","e":82.35,"y":730},{"s":"b","e":82.5,"y":756},{"s":"b","e":82.6,"y":819},{"s":"b","e":82.7,"y":817},{"s":"b","e":82.8,"y":760},{"s":"b","e":82.95,"y":739},{"s":"b","e":83.0,"y":844},{"s":"b","e":83.15,"y":834},{"s":"b","e":83.3,"y":899},{"s":"b","e":83.45,"y":930},{"s":"b","e":83.55,"y":955},{"s":"b","e":83.75,"y":907},{"s":"b","e":83.9,"y":996},{"s":"b","e":84.05,"y":940},{"s":"b","e":84.2,"y":875},{"s":"b","e":84.3,"y":1013},{"s":"b","e":84.5,"y":941},{"s":"b","e":84.7,"y":989},{"s":"b","e":84.85,"y":1086},{"s":"b","e":85.05,"y":1142},{"s":"b","e":85.2,"y":1077},{"s":"b","e":85.3,"y":1090},{"s":"b","e":85.45,"y":1062},{"s":"b","e":85.6,"y":1149},{"s":"b","e":85.75,"y":1128},{"s":"b","e":85.9,"y":1118},{"s":"b","e":86.0,"y":1190},{"s":"b","e":86.15,"y":1241},{"s":"b","e":86.3,"y":1246},{"s":"b","e":86.4,"y":1142},{"s":"b","e":86.5,"y":1280},{"s":"b","e":86.7,"y":1125},{"s":"b","e":86.9,"y":1231},{"s":"b","e":87.05,"y":1258},{"s":"b","e":87.2,"y":1239},{"s":"b","e":87.3,"y":1163},{"s":"b","e":87.4,"y":1295},{"s":"b","e":87.55,"y":1231},{"s":"b","e":87.75,"y":1270},{"s":"b","e":87.9,"y":1158},{"s":"b","e":88.0,"y":1093},{"s":"b","e":88.15,"y":1246},{"s":"b","e":88.35,"y":1214},{"s":"b","e":88.55,"y":1239},{"s":"b","e":88.75,"y":1265},{"s":"b","e":88.95,"y":1270},{"s":"b","e":89.1,"y":1205},{"s":"b","e":89.25,"y":1190},{"s":"b","e":89.4,"y":1110},{"s":"b","e":89.5,"y":1180},{"s":"b","e":89.65,"y":1174},{"s":"b","e":89.8,"y":1101},{"s":"b","e":89.9,"y":1163},{"s":"b","e":90.05,"y":1166},{"s":"b","e":90.25,"y":1190},{"s":"b","e":90.45,"y":1134},{"s":"b","e":90.6,"y":1052},{"s":"b","e":90.8,"y":989},{"s":"b","e":91.0,"y":955},{"s":"b","e":91.3,"y":916},{"s":"b","e":91.55,"y":834},{"s":"b","e":91.75,"y":810},{"s":"b","e":91.9,"y":705},{"s":"b","e":92.0,"y":625},{"s":"b","e":92.2,"y":514},{"s":"b","e":92.35,"y":420},{"s":"b","e":92.5,"y":339},{"s":"b","e":92.65,"y":250},{"s":"b","e":92.8,"y":167},{"s":"b","e":93.0,"y":97},{"s":"b","e":93.15,"y":65},{"s":"b","e":93.3,"y":46},{"s":"b","e":93.5,"y":28},{"s":"b","e":93.7,"y":19},{"s":"b","e":94.2,"y":7},{"s":"b","e":94.8,"y":4},{"s":"b","e":95.4,"y":2},
{"s":"g","e":50.0,"y":390},{"s":"g","e":50.1,"y":414},{"s":"g","e":50.2,"y":383},{"s":"g","e":50.3,"y":335},{"s":"g","e":50.45,"y":407},{"s":"g","e":50.6,"y":380},{"s":"g","e":50.8,"y":366},{"s":"g","e":51.0,"y":375},{"s":"g","e":51.15,"y":262},{"s":"g","e":51.25,"y":383},{"s":"g","e":51.45,"y":370},{"s":"g","e":51.8,"y":366},{"s":"g","e":52.0,"y":355},{"s":"g","e":52.2,"y":349},{"s":"g","e":52.45,"y":370},{"s":"g","e":52.6,"y":383},{"s":"g","e":52.85,"y":345},{"s":"g","e":53.1,"y":318},{"s":"g","e":53.3,"y":366},{"s":"g","e":53.5,"y":345},{"s":"g","e":53.7,"y":335},{"s":"g","e":53.9,"y":350},{"s":"g","e":54.1,"y":318},{"s":"g","e":54.3,"y":340},{"s":"g","e":54.6,"y":373},{"s":"g","e":54.8,"y":360},{"s":"g","e":55.0,"y":349},{"s":"g","e":55.2,"y":335},{"s":"g","e":55.4,"y":325},{"s":"g","e":55.6,"y":342},{"s":"g","e":55.95,"y":342},{"s":"g","e":56.2,"y":383},{"s":"g","e":56.4,"y":355},{"s":"g","e":56.66,"y":335},{"s":"g","e":56.9,"y":359},{"s":"g","e":57.1,"y":345},{"s":"g","e":57.47,"y":318},{"s":"g","e":57.7,"y":269},{"s":"g","e":57.9,"y":310},{"s":"g","e":58.1,"y":325},{"s":"g","e":58.3,"y":300},{"s":"g","e":58.5,"y":286},{"s":"g","e":58.7,"y":300},{"s":"g","e":58.9,"y":318},{"s":"g","e":59.3,"y":318},{"s":"g","e":59.45,"y":262},{"s":"g","e":59.6,"y":295},{"s":"g","e":59.9,"y":301},{"s":"g","e":60.1,"y":270},{"s":"g","e":60.3,"y":237},{"s":"g","e":60.55,"y":252},{"s":"g","e":60.75,"y":255},{"s":"g","e":60.95,"y":237},{"s":"g","e":61.15,"y":260},{"s":"g","e":61.35,"y":269},{"s":"g","e":61.55,"y":250},{"s":"g","e":61.75,"y":237},{"s":"g","e":61.95,"y":255},{"s":"g","e":62.2,"y":276},{"s":"g","e":62.4,"y":300},{"s":"g","e":62.58,"y":318},{"s":"g","e":62.75,"y":325},{"s":"g","e":62.9,"y":301},{"s":"g","e":63.1,"y":276},{"s":"g","e":63.3,"y":262},{"s":"g","e":63.55,"y":237},{"s":"g","e":63.7,"y":200},{"s":"g","e":63.8,"y":172},{"s":"g","e":63.95,"y":131},{"s":"g","e":64.1,"y":92},{"s":"g","e":64.3,"y":65},{"s":"g","e":64.5,"y":51},{"s":"g","e":64.8,"y":40},{"s":"g","e":65.2,"y":27},{"s":"g","e":65.8,"y":18},{"s":"g","e":66.5,"y":10},{"s":"g","e":67.2,"y":9},{"s":"g","e":67.85,"y":7},{"s":"g","e":68.5,"y":8},{"s":"g","e":69.2,"y":7},{"s":"g","e":69.9,"y":9},{"s":"g","e":70.6,"y":7},{"s":"g","e":71.3,"y":9},{"s":"g","e":71.9,"y":10},{"s":"g","e":72.6,"y":12},{"s":"g","e":73.3,"y":10},{"s":"g","e":74.0,"y":12},{"s":"g","e":74.6,"y":10},{"s":"g","e":75.3,"y":15},{"s":"g","e":76.0,"y":19},{"s":"g","e":76.4,"y":22},{"s":"g","e":76.8,"y":27},{"s":"g","e":77.2,"y":35},{"s":"g","e":77.6,"y":44},{"s":"g","e":78.0,"y":52},{"s":"g","e":78.2,"y":58},{"s":"g","e":78.5,"y":65},{"s":"g","e":78.7,"y":75},{"s":"g","e":78.95,"y":90},{"s":"g","e":79.1,"y":107},{"s":"g","e":79.25,"y":120},{"s":"g","e":79.4,"y":131},{"s":"g","e":79.6,"y":125},{"s":"g","e":79.8,"y":107},{"s":"g","e":79.95,"y":140},{"s":"g","e":80.05,"y":172},{"s":"g","e":80.2,"y":185},{"s":"g","e":80.3,"y":204},{"s":"g","e":80.45,"y":210},{"s":"g","e":80.6,"y":228},{"s":"g","e":80.85,"y":245},{"s":"g","e":81.0,"y":230},{"s":"g","e":81.1,"y":221},{"s":"g","e":81.25,"y":310},{"s":"g","e":81.4,"y":340},{"s":"g","e":81.5,"y":383},{"s":"g","e":81.65,"y":400},{"s":"g","e":81.8,"y":427},{"s":"g","e":81.9,"y":446},{"s":"g","e":82.05,"y":444},{"s":"g","e":82.2,"y":410},{"s":"g","e":82.4,"y":400},{"s":"g","e":82.6,"y":487},{"s":"g","e":82.8,"y":548},{"s":"g","e":83.0,"y":575},{"s":"g","e":83.2,"y":592},{"s":"g","e":83.35,"y":642},{"s":"g","e":83.55,"y":538},{"s":"g","e":83.7,"y":590},{"s":"g","e":83.85,"y":618},{"s":"g","e":84.1,"y":642},{"s":"g","e":84.25,"y":660},{"s":"g","e":84.4,"y":686},{"s":"g","e":84.55,"y":710},{"s":"g","e":84.65,"y":739},{"s":"g","e":84.8,"y":720},{"s":"g","e":84.9,"y":696},{"s":"g","e":85.05,"y":834},{"s":"g","e":85.2,"y":868},{"s":"g","e":85.4,"y":880},{"s":"g","e":85.6,"y":912},{"s":"g","e":85.7,"y":940},{"s":"g","e":85.8,"y":972},{"s":"g","e":85.9,"y":921},{"s":"g","e":86.0,"y":907},{"s":"g","e":86.15,"y":945},{"s":"g","e":86.3,"y":965},{"s":"g","e":86.4,"y":989},{"s":"g","e":86.5,"y":955},{"s":"g","e":86.65,"y":980},{"s":"g","e":86.8,"y":1006},{"s":"g","e":87.0,"y":1050},{"s":"g","e":87.15,"y":1062},{"s":"g","e":87.3,"y":1000},{"s":"g","e":87.4,"y":858},{"s":"g","e":87.5,"y":996},{"s":"g","e":87.65,"y":1000},{"s":"g","e":87.8,"y":1004},{"s":"g","e":88.0,"y":950},{"s":"g","e":88.2,"y":931},{"s":"g","e":88.3,"y":1023},{"s":"g","e":88.4,"y":1062},{"s":"g","e":88.55,"y":950},{"s":"g","e":88.7,"y":851},{"s":"g","e":88.85,"y":940},{"s":"g","e":88.95,"y":1013},{"s":"g","e":89.1,"y":930},{"s":"g","e":89.25,"y":858},{"s":"g","e":89.4,"y":972},{"s":"g","e":89.55,"y":900},{"s":"g","e":89.65,"y":851},{"s":"g","e":89.8,"y":931},{"s":"g","e":89.95,"y":870},{"s":"g","e":90.05,"y":834},{"s":"g","e":90.2,"y":845},{"s":"g","e":90.3,"y":851},{"s":"g","e":90.45,"y":800},{"s":"g","e":90.6,"y":770},{"s":"g","e":90.75,"y":790},{"s":"g","e":90.9,"y":771},{"s":"g","e":91.0,"y":795},{"s":"g","e":91.15,"y":740},{"s":"g","e":91.3,"y":705},{"s":"g","e":91.4,"y":608},{"s":"g","e":91.5,"y":514},{"s":"g","e":91.6,"y":440},{"s":"g","e":91.7,"y":383},{"s":"g","e":91.85,"y":330},{"s":"g","e":91.95,"y":296},{"s":"g","e":92.1,"y":250},{"s":"g","e":92.2,"y":218},{"s":"g","e":92.35,"y":175},{"s":"g","e":92.5,"y":141},{"s":"g","e":92.65,"y":100},{"s":"g","e":92.8,"y":73},{"s":"g","e":93.0,"y":37},{"s":"g","e":93.2,"y":22},{"s":"g","e":93.4,"y":15},{"s":"g","e":94.0,"y":7},{"s":"g","e":94.6,"y":3},{"s":"g","e":95.2,"y":2},{"s":"g","e":95.6,"y":1}
]},
 "transform":[{"lookup":"s","from":{"data":{"name":"names"},"key":"s","fields":["series"]}}],
 "mark":{"type":"line","strokeWidth":4,"clip":true,"strokeJoin":"round"},
 "encoding":{
  "x":{"field":"e","type":"quantitative","scale":{"domain":[50,100],"nice":false,"zero":false},
   "axis":{"title":"Energy (keV)","values":[50,52.5,55,57.5,60,62.5,65,67.5,70,72.5,75,77.5,80,82.5,85,87.5,90,92.5,95,97.5,100],"format":"d",
    "labelExpr":"datum.value % 5 === 0 ? datum.label : ''",
    "tickSize":{"condition":{"test":"datum.value % 5 === 0","value":20},"value":10},
    "tickWidth":3,"tickColor":"black","domainColor":"black","domainWidth":3,"labelFontSize":46,"labelColor":"black","labelPadding":10,"labelFlush":false,"labelOverlap":false,"labelBound":false,"titleFontSize":47,"titleFontWeight":"bold","titleColor":"black","titlePadding":22,"grid":false,"labelFont":"Liberation Sans","titleFont":"Liberation Sans"}},
  "y":{"field":"y","type":"quantitative","scale":{"domain":[0,2200],"nice":false,"zero":false},
   "axis":{"title":"Yield","values":[0,250,500,750,1000,1250,1500,1750,2000],"format":"d",
    "labelExpr":"datum.value % 500 === 0 ? datum.label : ''",
    "tickSize":{"condition":{"test":"datum.value % 500 === 0","value":20},"value":10},
    "tickWidth":3,"tickColor":"black","domainColor":"black","domainWidth":3,"labelFontSize":47,"labelColor":"black","labelPadding":8,"labelOverlap":false,"labelBound":false,"titleFontSize":48,"titleFontWeight":"bold","titleColor":"black","titleX":-155,"titleY":404,"grid":false,"labelFont":"Liberation Sans","titleFont":"Liberation Sans"}},
  "color":{"field":"series","type":"nominal",
   "scale":{"domain":["Au 10 nm planar layer /4","Si reference","Au/silica NP reference","Au/silica NP Fe⁺ implant","Au/silica NP Ar⁺ implant","Au/silica NP N⁺ implant"],
            "range":["#FF8000","#FFFF00","#000000","#800000","#0000FF","#008000"]},
   "sort":null,
   "legend":{"title":null,"orient":"none","legendX":20,"legendY":24,"symbolType":"stroke","symbolSize":10000,"symbolStrokeWidth":4,"labelFontSize":45,"labelFont":"Liberation Sans","labelColor":"black","labelOffset":12,"clipHeight":48,"rowPadding":12,"padding":0,"labelLimit":900}}
 }},
{"data":{"values":[{}]},"mark":{"type":"rule","strokeWidth":2,"color":"black"},
 "encoding":{"x":{"datum":63.47,"type":"quantitative","scale":{"domain":[50,100],"nice":false,"zero":false}},"y":{"datum":730,"type":"quantitative","scale":{"domain":[0,2200],"nice":false,"zero":false}},"y2":{"datum":525}}},
{"data":{"values":[{}]},"mark":{"type":"rule","strokeWidth":2,"color":"black"},
 "encoding":{"x":{"datum":93.26,"type":"quantitative","scale":{"domain":[50,100],"nice":false,"zero":false}},"y":{"datum":1804,"type":"quantitative","scale":{"domain":[0,2200],"nice":false,"zero":false}},"y2":{"datum":1605}}},
{"data":{"values":[{}]},"mark":{"type":"point","shape":"M-0.45,-1L0.45,-1L0,1Z","filled":true,"color":"black","opacity":1,"size":625},
 "encoding":{"x":{"datum":63.47,"type":"quantitative","scale":{"domain":[50,100],"nice":false,"zero":false}},"y":{"datum":522,"type":"quantitative","scale":{"domain":[0,2200],"nice":false,"zero":false}}}},
{"data":{"values":[{}]},"mark":{"type":"point","shape":"M-0.45,-1L0.45,-1L0,1Z","filled":true,"color":"black","opacity":1,"size":625},
 "encoding":{"x":{"datum":93.26,"type":"quantitative","scale":{"domain":[50,100],"nice":false,"zero":false}},"y":{"datum":1601,"type":"quantitative","scale":{"domain":[0,2200],"nice":false,"zero":false}}}},
{"data":{"values":[{}]},"mark":{"type":"text","text":"Si","fontSize":44,"fontWeight":"bold","font":"Liberation Sans","color":"black","align":"center","baseline":"middle"},
 "encoding":{"x":{"datum":63.47,"type":"quantitative","scale":{"domain":[50,100],"nice":false,"zero":false}},"y":{"datum":819,"type":"quantitative","scale":{"domain":[0,2200],"nice":false,"zero":false}}}},
{"data":{"values":[{}]},"mark":{"type":"text","text":"Au","fontSize":44,"fontWeight":"bold","font":"Liberation Sans","color":"black","align":"center","baseline":"middle"},
 "encoding":{"x":{"datum":93.5,"type":"quantitative","scale":{"domain":[50,100],"nice":false,"zero":false}},"y":{"datum":1879,"type":"quantitative","scale":{"domain":[0,2200],"nice":false,"zero":false}}}}
]
}
